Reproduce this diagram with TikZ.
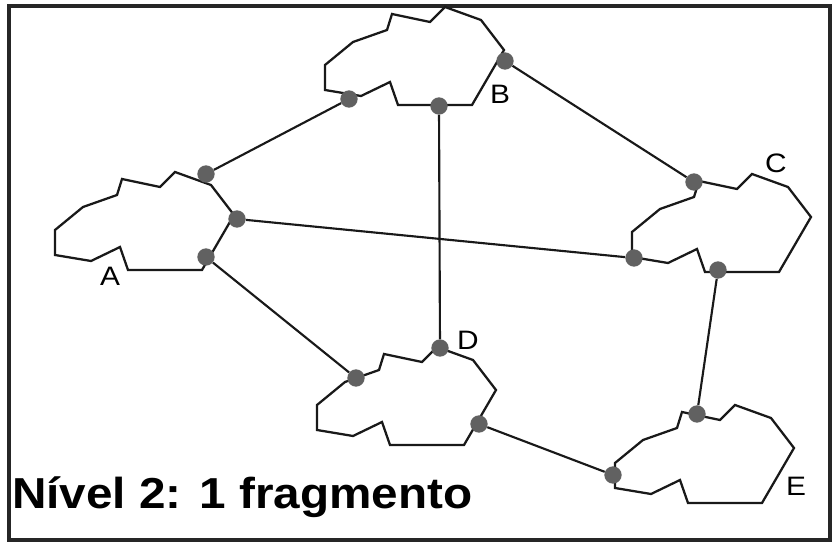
\documentclass[tikz,border=0pt]{standalone}
\usepackage{fontspec}
\setmainfont{Liberation Sans}
\begin{document}
\begin{tikzpicture}[x=0.75pt,y=-0.75pt,font=\fontsize{20}{22}\selectfont,
  nuvem/.pic={
    \draw[line width=1.7pt,black!90] (0,0) -- (0,-25) -- (28,-48) -- (62,-60) -- (67,-76)
      -- (105,-68) -- (120,-83) -- (156,-70) -- (179,-40) -- (147,15)
      -- (73,15) -- (65,-8) -- (36,6) -- cycle;
  },
  ponto/.style={circle,fill=black!62,inner sep=0pt,minimum size=13pt},
  lig/.style={line width=1.6pt,black!90}]

\useasboundingbox (0,0) rectangle (833,542);
\draw[line width=2.4pt,black!85] (9,6) rectangle (830,540);

%Nuvens

\pic at (55,255) {nuvem};
\pic at (325,90) {nuvem};
\pic at (632,257) {nuvem};
\pic at (317,430) {nuvem};
\pic at (615,488) {nuvem};

%Pontos de ligacao

\node[ponto] (a1) at (206,174) {};
\node[ponto] (a2) at (237,219) {};
\node[ponto] (a3) at (206,257) {};
\node[ponto] (b1) at (349,99) {};
\node[ponto] (b2) at (439,106) {};
\node[ponto] (b3) at (505,61) {};
\node[ponto] (c1) at (694,182) {};
\node[ponto] (c2) at (634,258) {};
\node[ponto] (c3) at (718,270) {};
\node[ponto] (d1) at (356,378) {};
\node[ponto] (d2) at (440,348) {};
\node[ponto] (d3) at (479,424) {};
\node[ponto] (e1) at (697,414) {};
\node[ponto] (e2) at (613,475) {};

\draw[lig] (a1) -- (b1);
\draw[lig] (b3) -- (c1);
\draw[lig] (b2) -- (d2);
\draw[lig] (a2) -- (c2);
\draw[lig] (a3) -- (d1);
\draw[lig] (c3) -- (e1);
\draw[lig] (d3) -- (e2);

%Rotulos

\node[xscale=1.12] (la) at (110,276) {A};
\node[xscale=1.12] (lb) at (500,94) {B};
\node[xscale=1.12] (lc) at (776,163) {C};
\node[xscale=1.12] (ld) at (468,340) {D};
\node[xscale=1.12] (le) at (796,486) {E};

\node[font=\bfseries\fontsize{32.5}{34}\selectfont,anchor=base west,inner sep=0pt,xscale=1.1]
  (titulo) at (12,508) {Nível 2: 1 fragmento};

\end{tikzpicture}
\end{document}
